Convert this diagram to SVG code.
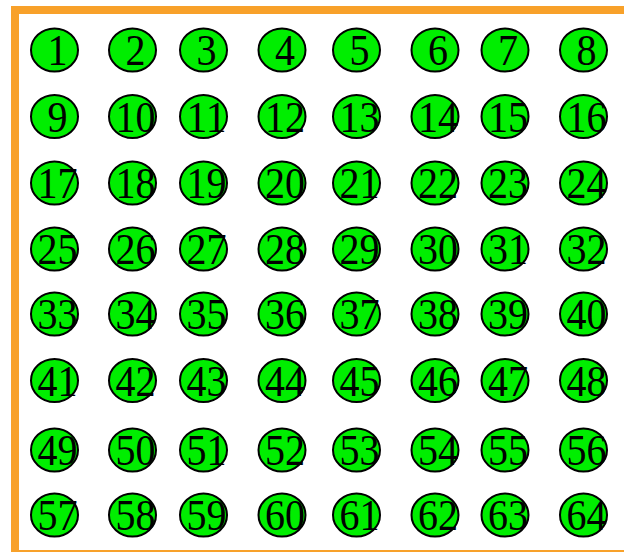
<svg xmlns="http://www.w3.org/2000/svg" width="624" height="552" viewBox="0 0 624 552">
<style>
.n ellipse{fill:#00ee00;stroke:#000;stroke-width:2}
.n text{font-family:"Liberation Serif","Times New Roman",serif;font-size:44px;text-anchor:middle;fill:#000}
</style>
<rect width="624" height="552" fill="#fff"/>
<rect x="15" y="10" width="620" height="544" fill="none" stroke="#f8a12a" stroke-width="8"/>
<g id="nodes">
<g id="n1" class="n"><ellipse cx="54.5" cy="50" rx="23.5" ry="21.5"/><text x="57.5" y="65" textLength="20" lengthAdjust="spacingAndGlyphs">1</text></g>
<g id="n2" class="n"><ellipse cx="132.5" cy="50" rx="23.5" ry="21.5"/><text x="135.5" y="65" textLength="20" lengthAdjust="spacingAndGlyphs">2</text></g>
<g id="n3" class="n"><ellipse cx="203.5" cy="50" rx="23.5" ry="21.5"/><text x="206.5" y="65" textLength="20" lengthAdjust="spacingAndGlyphs">3</text></g>
<g id="n4" class="n"><ellipse cx="282" cy="50" rx="23.5" ry="21.5"/><text x="285" y="65" textLength="20" lengthAdjust="spacingAndGlyphs">4</text></g>
<g id="n5" class="n"><ellipse cx="356.5" cy="50" rx="23.5" ry="21.5"/><text x="359.5" y="65" textLength="20" lengthAdjust="spacingAndGlyphs">5</text></g>
<g id="n6" class="n"><ellipse cx="435" cy="50" rx="23.5" ry="21.5"/><text x="438" y="65" textLength="20" lengthAdjust="spacingAndGlyphs">6</text></g>
<g id="n7" class="n"><ellipse cx="505" cy="50" rx="23.5" ry="21.5"/><text x="508" y="65" textLength="20" lengthAdjust="spacingAndGlyphs">7</text></g>
<g id="n8" class="n"><ellipse cx="583.5" cy="50" rx="23.5" ry="21.5"/><text x="586.5" y="65" textLength="20" lengthAdjust="spacingAndGlyphs">8</text></g>
<g id="n9" class="n"><ellipse cx="54.5" cy="116.5" rx="23.5" ry="21.5"/><text x="57.5" y="131.5" textLength="20" lengthAdjust="spacingAndGlyphs">9</text></g>
<g id="n10" class="n"><ellipse cx="132.5" cy="116.5" rx="23.5" ry="21.5"/><text x="135.5" y="131.5" textLength="40" lengthAdjust="spacingAndGlyphs">10</text></g>
<g id="n11" class="n"><ellipse cx="203.5" cy="116.5" rx="23.5" ry="21.5"/><text x="206.5" y="131.5" textLength="40" lengthAdjust="spacingAndGlyphs">11</text></g>
<g id="n12" class="n"><ellipse cx="282" cy="116.5" rx="23.5" ry="21.5"/><text x="285" y="131.5" textLength="40" lengthAdjust="spacingAndGlyphs">12</text></g>
<g id="n13" class="n"><ellipse cx="356.5" cy="116.5" rx="23.5" ry="21.5"/><text x="359.5" y="131.5" textLength="40" lengthAdjust="spacingAndGlyphs">13</text></g>
<g id="n14" class="n"><ellipse cx="435" cy="116.5" rx="23.5" ry="21.5"/><text x="438" y="131.5" textLength="40" lengthAdjust="spacingAndGlyphs">14</text></g>
<g id="n15" class="n"><ellipse cx="505" cy="116.5" rx="23.5" ry="21.5"/><text x="508" y="131.5" textLength="40" lengthAdjust="spacingAndGlyphs">15</text></g>
<g id="n16" class="n"><ellipse cx="583.5" cy="116.5" rx="23.5" ry="21.5"/><text x="586.5" y="131.5" textLength="40" lengthAdjust="spacingAndGlyphs">16</text></g>
<g id="n17" class="n"><ellipse cx="54.5" cy="183" rx="23.5" ry="21.5"/><text x="57.5" y="198" textLength="40" lengthAdjust="spacingAndGlyphs">17</text></g>
<g id="n18" class="n"><ellipse cx="132.5" cy="183" rx="23.5" ry="21.5"/><text x="135.5" y="198" textLength="40" lengthAdjust="spacingAndGlyphs">18</text></g>
<g id="n19" class="n"><ellipse cx="203.5" cy="183" rx="23.5" ry="21.5"/><text x="206.5" y="198" textLength="40" lengthAdjust="spacingAndGlyphs">19</text></g>
<g id="n20" class="n"><ellipse cx="282" cy="183" rx="23.5" ry="21.5"/><text x="285" y="198" textLength="40" lengthAdjust="spacingAndGlyphs">20</text></g>
<g id="n21" class="n"><ellipse cx="356.5" cy="183" rx="23.5" ry="21.5"/><text x="359.5" y="198" textLength="40" lengthAdjust="spacingAndGlyphs">21</text></g>
<g id="n22" class="n"><ellipse cx="435" cy="183" rx="23.5" ry="21.5"/><text x="438" y="198" textLength="40" lengthAdjust="spacingAndGlyphs">22</text></g>
<g id="n23" class="n"><ellipse cx="505" cy="183" rx="23.5" ry="21.5"/><text x="508" y="198" textLength="40" lengthAdjust="spacingAndGlyphs">23</text></g>
<g id="n24" class="n"><ellipse cx="583.5" cy="183" rx="23.5" ry="21.5"/><text x="586.5" y="198" textLength="40" lengthAdjust="spacingAndGlyphs">24</text></g>
<g id="n25" class="n"><ellipse cx="54.5" cy="249" rx="23.5" ry="21.5"/><text x="57.5" y="264" textLength="40" lengthAdjust="spacingAndGlyphs">25</text></g>
<g id="n26" class="n"><ellipse cx="132.5" cy="249" rx="23.5" ry="21.5"/><text x="135.5" y="264" textLength="40" lengthAdjust="spacingAndGlyphs">26</text></g>
<g id="n27" class="n"><ellipse cx="203.5" cy="249" rx="23.5" ry="21.5"/><text x="206.5" y="264" textLength="40" lengthAdjust="spacingAndGlyphs">27</text></g>
<g id="n28" class="n"><ellipse cx="282" cy="249" rx="23.5" ry="21.5"/><text x="285" y="264" textLength="40" lengthAdjust="spacingAndGlyphs">28</text></g>
<g id="n29" class="n"><ellipse cx="356.5" cy="249" rx="23.5" ry="21.5"/><text x="359.5" y="264" textLength="40" lengthAdjust="spacingAndGlyphs">29</text></g>
<g id="n30" class="n"><ellipse cx="435" cy="249" rx="23.5" ry="21.5"/><text x="438" y="264" textLength="40" lengthAdjust="spacingAndGlyphs">30</text></g>
<g id="n31" class="n"><ellipse cx="505" cy="249" rx="23.5" ry="21.5"/><text x="508" y="264" textLength="40" lengthAdjust="spacingAndGlyphs">31</text></g>
<g id="n32" class="n"><ellipse cx="583.5" cy="249" rx="23.5" ry="21.5"/><text x="586.5" y="264" textLength="40" lengthAdjust="spacingAndGlyphs">32</text></g>
<g id="n33" class="n"><ellipse cx="54.5" cy="314" rx="23.5" ry="21.5"/><text x="57.5" y="329" textLength="40" lengthAdjust="spacingAndGlyphs">33</text></g>
<g id="n34" class="n"><ellipse cx="132.5" cy="314" rx="23.5" ry="21.5"/><text x="135.5" y="329" textLength="40" lengthAdjust="spacingAndGlyphs">34</text></g>
<g id="n35" class="n"><ellipse cx="203.5" cy="314" rx="23.5" ry="21.5"/><text x="206.5" y="329" textLength="40" lengthAdjust="spacingAndGlyphs">35</text></g>
<g id="n36" class="n"><ellipse cx="282" cy="314" rx="23.5" ry="21.5"/><text x="285" y="329" textLength="40" lengthAdjust="spacingAndGlyphs">36</text></g>
<g id="n37" class="n"><ellipse cx="356.5" cy="314" rx="23.5" ry="21.5"/><text x="359.5" y="329" textLength="40" lengthAdjust="spacingAndGlyphs">37</text></g>
<g id="n38" class="n"><ellipse cx="435" cy="314" rx="23.5" ry="21.5"/><text x="438" y="329" textLength="40" lengthAdjust="spacingAndGlyphs">38</text></g>
<g id="n39" class="n"><ellipse cx="505" cy="314" rx="23.5" ry="21.5"/><text x="508" y="329" textLength="40" lengthAdjust="spacingAndGlyphs">39</text></g>
<g id="n40" class="n"><ellipse cx="583.5" cy="314" rx="23.5" ry="21.5"/><text x="586.5" y="329" textLength="40" lengthAdjust="spacingAndGlyphs">40</text></g>
<g id="n41" class="n"><ellipse cx="54.5" cy="380.5" rx="23.5" ry="21.5"/><text x="57.5" y="395.5" textLength="40" lengthAdjust="spacingAndGlyphs">41</text></g>
<g id="n42" class="n"><ellipse cx="132.5" cy="380.5" rx="23.5" ry="21.5"/><text x="135.5" y="395.5" textLength="40" lengthAdjust="spacingAndGlyphs">42</text></g>
<g id="n43" class="n"><ellipse cx="203.5" cy="380.5" rx="23.5" ry="21.5"/><text x="206.5" y="395.5" textLength="40" lengthAdjust="spacingAndGlyphs">43</text></g>
<g id="n44" class="n"><ellipse cx="282" cy="380.5" rx="23.5" ry="21.5"/><text x="285" y="395.5" textLength="40" lengthAdjust="spacingAndGlyphs">44</text></g>
<g id="n45" class="n"><ellipse cx="356.5" cy="380.5" rx="23.5" ry="21.5"/><text x="359.5" y="395.5" textLength="40" lengthAdjust="spacingAndGlyphs">45</text></g>
<g id="n46" class="n"><ellipse cx="435" cy="380.5" rx="23.5" ry="21.5"/><text x="438" y="395.5" textLength="40" lengthAdjust="spacingAndGlyphs">46</text></g>
<g id="n47" class="n"><ellipse cx="505" cy="380.5" rx="23.5" ry="21.5"/><text x="508" y="395.5" textLength="40" lengthAdjust="spacingAndGlyphs">47</text></g>
<g id="n48" class="n"><ellipse cx="583.5" cy="380.5" rx="23.5" ry="21.5"/><text x="586.5" y="395.5" textLength="40" lengthAdjust="spacingAndGlyphs">48</text></g>
<g id="n49" class="n"><ellipse cx="54.5" cy="450" rx="23.5" ry="21.5"/><text x="57.5" y="465" textLength="40" lengthAdjust="spacingAndGlyphs">49</text></g>
<g id="n50" class="n"><ellipse cx="132.5" cy="450" rx="23.5" ry="21.5"/><text x="135.5" y="465" textLength="40" lengthAdjust="spacingAndGlyphs">50</text></g>
<g id="n51" class="n"><ellipse cx="203.5" cy="450" rx="23.5" ry="21.5"/><text x="206.5" y="465" textLength="40" lengthAdjust="spacingAndGlyphs">51</text></g>
<g id="n52" class="n"><ellipse cx="282" cy="450" rx="23.5" ry="21.5"/><text x="285" y="465" textLength="40" lengthAdjust="spacingAndGlyphs">52</text></g>
<g id="n53" class="n"><ellipse cx="356.5" cy="450" rx="23.5" ry="21.5"/><text x="359.5" y="465" textLength="40" lengthAdjust="spacingAndGlyphs">53</text></g>
<g id="n54" class="n"><ellipse cx="435" cy="450" rx="23.5" ry="21.5"/><text x="438" y="465" textLength="40" lengthAdjust="spacingAndGlyphs">54</text></g>
<g id="n55" class="n"><ellipse cx="505" cy="450" rx="23.5" ry="21.5"/><text x="508" y="465" textLength="40" lengthAdjust="spacingAndGlyphs">55</text></g>
<g id="n56" class="n"><ellipse cx="583.5" cy="450" rx="23.5" ry="21.5"/><text x="586.5" y="465" textLength="40" lengthAdjust="spacingAndGlyphs">56</text></g>
<g id="n57" class="n"><ellipse cx="54.5" cy="515" rx="23.5" ry="21.5"/><text x="57.5" y="530" textLength="40" lengthAdjust="spacingAndGlyphs">57</text></g>
<g id="n58" class="n"><ellipse cx="132.5" cy="515" rx="23.5" ry="21.5"/><text x="135.5" y="530" textLength="40" lengthAdjust="spacingAndGlyphs">58</text></g>
<g id="n59" class="n"><ellipse cx="203.5" cy="515" rx="23.5" ry="21.5"/><text x="206.5" y="530" textLength="40" lengthAdjust="spacingAndGlyphs">59</text></g>
<g id="n60" class="n"><ellipse cx="282" cy="515" rx="23.5" ry="21.5"/><text x="285" y="530" textLength="40" lengthAdjust="spacingAndGlyphs">60</text></g>
<g id="n61" class="n"><ellipse cx="356.5" cy="515" rx="23.5" ry="21.5"/><text x="359.5" y="530" textLength="40" lengthAdjust="spacingAndGlyphs">61</text></g>
<g id="n62" class="n"><ellipse cx="435" cy="515" rx="23.5" ry="21.5"/><text x="438" y="530" textLength="40" lengthAdjust="spacingAndGlyphs">62</text></g>
<g id="n63" class="n"><ellipse cx="505" cy="515" rx="23.5" ry="21.5"/><text x="508" y="530" textLength="40" lengthAdjust="spacingAndGlyphs">63</text></g>
<g id="n64" class="n"><ellipse cx="583.5" cy="515" rx="23.5" ry="21.5"/><text x="586.5" y="530" textLength="40" lengthAdjust="spacingAndGlyphs">64</text></g>
</g>
<g id="connectors"/>
</svg>
